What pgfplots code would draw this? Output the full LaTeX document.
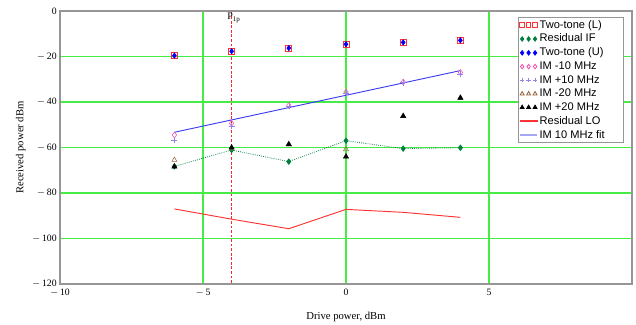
\documentclass[border=0pt]{standalone}
\usepackage{fontspec}
\setmainfont{Liberation Serif}
\newfontfamily\legfont{Liberation Sans}
\usepackage{pgfplots}
\pgfplotsset{compat=1.18}
\definecolor{gridgreen}{RGB}{70,235,70}
\definecolor{axgray}{RGB}{150,150,150}
\definecolor{ifgreen}{RGB}{0,128,64}
\definecolor{imlav}{RGB}{150,130,230}
\definecolor{brownish}{RGB}{150,100,60}
\definecolor{fitblue}{RGB}{60,60,240}
\definecolor{lored}{RGB}{255,50,50}
\definecolor{lolegred}{RGB}{254,52,52}
\definecolor{dashred}{RGB}{253,40,40}
\pgfplotsset{
  markleg/.style={legend image code/.code={\draw[##1, only marks, mark size=1.7pt] plot coordinates {(0cm,0cm) (0.17cm,0cm) (0.34cm,0cm)};}},
  lineleg/.style={legend image code/.code={\fill[lolegred] (-0.05cm,-0.4pt) rectangle (0.4cm,0.4pt);}},
  fitleg/.style={legend image code/.code={\draw[line width=1.4pt, fitblue!45] (-0.05cm,0cm) -- (0.4cm,0cm);}},
}
\begin{document}
\begin{tikzpicture}
\begin{axis}[
  scale only axis, width=429pt, height=204.75pt,
  xmin=-10, xmax=10, ymin=-120, ymax=0,
  axis line style={axgray, line width=1pt},
  major tick length=0pt,
  xtick={-10,-5,0,5}, xticklabels={{$-$\,10},{$-$\,5},0,5},
  ytick={-120,-100,-80,-60,-40,-20,0},
  yticklabels={{$-$\,120},{$-$\,100},{$-$\,80},{$-$\,60},{$-$\,40},{$-$\,20},0},
  /pgf/number format/assume math mode=true,
  ticklabel style={font=\fontsize{7.3}{8}\selectfont},
  yticklabel style={xshift=1pt},
  xticklabel style={yshift=0pt},
  grid=major, major grid style={gridgreen, line width=0.8pt},
  xlabel={Drive power, dBm}, ylabel={Received power dBm},
  label style={font=\fontsize{8}{9}\selectfont},
  xlabel style={yshift=-5pt},
  ylabel style={yshift=-2pt},
  legend style={at={(0.80,0.978)}, anchor=north west, draw=axgray, line width=0.6pt,
    font=\legfont\fontsize{8.3}{9.6}\selectfont, inner sep=1pt, row sep=0.9pt,
    legend cell align=left, nodes={inner sep=1pt}},
  markleg,
]
% vertical marker at -4 dBm, drawn as short filled dashes
\pgfplotsinvokeforeach{0,...,59}{
  \fill[dashred] (axis cs:-4.017,{-2*#1-0.3}) rectangle (axis cs:-3.983,{-2*#1-1.5});
}
\addplot[only marks, mark=square, mark size=2.2pt, color=lored, mark options={line width=0.6pt}] coordinates {
(-6,-19.6) (-4,-17.7) (-2,-16.3) (0,-14.6) (2,-13.8) (4,-12.9)};
\addlegendentry{Two-tone (L)}
\addplot[color=ifgreen, densely dotted, line width=0.6pt, mark=diamond*, mark size=2pt, mark options={solid}] coordinates {
(-6,-68.3) (-4,-61.1) (-2,-66.2) (0,-57) (2,-60.5) (4,-60.1)};
\addlegendentry{Residual IF}
\addplot[only marks, mark=diamond*, mark size=2pt, color=blue] coordinates {
(-6,-19.6) (-4,-17.7) (-2,-16.3) (0,-14.6) (2,-13.8) (4,-12.9)};
\addlegendentry{Two-tone (U)}
\addplot[only marks, mark=diamond, mark size=2.2pt, color=magenta!70] coordinates {
(-6,-54.5) (-4,-49.4) (-2,-41.5) (0,-35.6) (2,-31.2) (4,-27)};
\addlegendentry{IM -10 MHz}
\addplot[only marks, mark=+, mark size=2.2pt, color=imlav] coordinates {
(-6,-56.7) (-4,-50.5) (-2,-42) (0,-36) (2,-31.5) (4,-27.8)};
\addlegendentry{IM +10 MHz}
\addplot[only marks, mark=triangle, mark size=2.2pt, color=brownish] coordinates {
(-6,-65.5) (-4,-60.5) (-2,-58.6) (0,-60.8) (2,-46.2) (4,-38.2)};
\addlegendentry{IM -20 MHz}
\addplot[only marks, mark=triangle*, mark size=2.2pt, color=black] coordinates {
(-6,-68.4) (-4,-60) (-2,-58.6) (0,-64) (2,-46.2) (4,-38.2)};
\addlegendentry{IM +20 MHz}
\addplot[color=lored, no markers, line width=0.7pt, lineleg] coordinates {
(-6,-87) (-4,-91.5) (-2,-95.7) (0,-87.2) (2,-88.5) (4,-90.7)};
\addlegendentry{Residual LO}
\addplot[color=fitblue, no markers, line width=0.7pt, fitleg] coordinates {
(-6,-53.3) (4,-26.2)};
\addlegendentry{IM 10 MHz fit\hspace*{12pt}}
\node[anchor=north, font=\fontsize{7.5}{8}\selectfont, inner sep=1pt] at (axis cs:-3.92,-0.3) {P$_{\mathrm{1p}}$};
\end{axis}
\pgfresetboundingbox
\path (-45pt,-30.75pt) rectangle (432pt,213pt);
\end{tikzpicture}
\end{document}
